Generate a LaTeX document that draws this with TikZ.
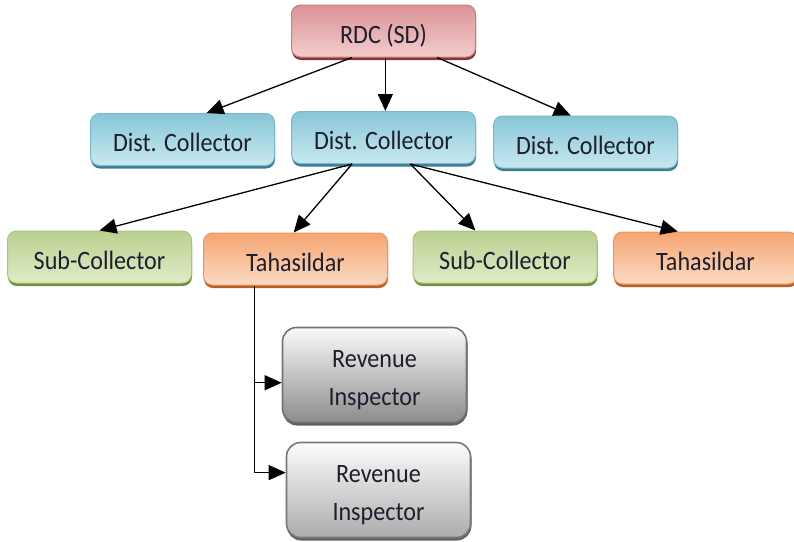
\documentclass[tikz,border=0pt]{standalone}
\usepackage{fontspec}
\setmainfont{Carlito}[FakeStretch=0.91]
\usetikzlibrary{arrows.meta,shadows,calc}
\definecolor{txt}{RGB}{30,30,45}
\definecolor{redtop}{RGB}{220,146,148}
\definecolor{redbot}{RGB}{242,205,205}
\definecolor{redline}{RGB}{205,125,125}
\definecolor{redsh}{RGB}{135,55,55}
\definecolor{bluetop}{RGB}{136,198,216}
\definecolor{bluebot}{RGB}{200,232,240}
\definecolor{blueline}{RGB}{120,185,205}
\definecolor{bluesh}{RGB}{60,125,145}
\definecolor{greentop}{RGB}{186,208,145}
\definecolor{greenbot}{RGB}{222,236,198}
\definecolor{greenline}{RGB}{170,195,125}
\definecolor{greensh}{RGB}{112,142,62}
\definecolor{orangetop}{RGB}{245,165,114}
\definecolor{orangebot}{RGB}{251,218,195}
\definecolor{orangeline}{RGB}{235,150,95}
\definecolor{orangesh}{RGB}{185,95,35}
\definecolor{grayAtop}{RGB}{250,250,250}
\definecolor{grayAbot}{RGB}{140,140,140}
\definecolor{grayAline}{RGB}{115,115,115}
\definecolor{grayAsh}{RGB}{95,95,95}
\definecolor{grayBtop}{RGB}{252,252,252}
\definecolor{grayBbot}{RGB}{172,172,172}
\definecolor{grayBline}{RGB}{120,120,120}
\definecolor{grayBsh}{RGB}{100,100,100}
\begin{document}
\begin{tikzpicture}[x=1pt,y=-1pt,
  box/.style={rounded corners=9pt, draw=#1line, line width=1pt,
    top color=#1top, bottom color=#1bot,
    general shadow={fill=#1sh, shadow yshift=-3pt, shadow xshift=0.5pt},
    minimum width=184pt, minimum height=52pt, inner sep=0pt,
    text height=24pt, text depth=0pt,
    font=\fontsize{26.5}{30}\selectfont, text=txt},
  ribox/.style={box=#1, line width=1.6pt, rounded corners=14pt,
    minimum height=95pt, align=center,
    text height=65pt, text depth=5pt,
    font=\fontsize{26.5}{38}\selectfont,
    general shadow={fill=#1sh, shadow yshift=-2pt, shadow xshift=1pt}},
  arr/.style={line width=1.3pt, -{Triangle[length=17pt,width=15pt]}},
  elb/.style={line width=1pt, -{Triangle[length=17pt,width=15pt]}}]
\useasboundingbox (0,0) rectangle (794,541);

\node[box=red]    (rdc) at (383.5,31)  {RDC (SD)};
\node[box=blue]   (dc1) at (182.5,139.5) {Dist. Collector};
\node[box=blue]   (dc2) at (383.5,137.5) {Dist. Collector};
\node[box=blue]   (dc3) at (585.5,142) {Dist. Collector};
\node[box=green]  (sc1) at (99.5,257) {Sub-Collector};
\node[box=orange] (t1)  at (295.5,259) {Tahasildar};
\node[box=green]  (sc2) at (505,257) {Sub-Collector};
\node[box=orange] (t2)  at (705.5,258) {Tahasildar};
\node[ribox=grayA] (ri1) at (374.5,375) {Revenue\\Inspector};
\node[ribox=grayB] (ri2) at (378.5,490) {Revenue\\Inspector};

\draw[arr] ($(rdc.south west)!0.33!(rdc.south east)$) -- ($(dc1.north west)!0.63!(dc1.north east)$);
\draw[arr] ($(rdc.south west)!0.51!(rdc.south east)$) -- ($(dc2.north west)!0.51!(dc2.north east)$);
\draw[arr] ($(rdc.south west)!0.79!(rdc.south east)$) -- ($(dc3.north west)!0.42!(dc3.north east)$);

\draw[arr] ($(dc2.south west)!0.33!(dc2.south east)$) -- (sc1.north);
\draw[arr] ($(dc2.south west)!0.33!(dc2.south east)$) -- ($(t1.north west)!0.49!(t1.north east)$);
\draw[arr] ($(dc2.south west)!0.645!(dc2.south east)$) -- ($(sc2.north west)!0.34!(sc2.north east)$);
\draw[arr] ($(dc2.south west)!0.645!(dc2.south east)$) -- ($(t2.north west)!0.35!(t2.north east)$);

\coordinate (tb) at ($(t1.south west)!0.28!(t1.south east)$);
\coordinate (r1) at ($(ri1.south west)!0.42!(ri1.north west)$);
\coordinate (r2) at ($(ri2.south west)!0.68!(ri2.north west)$);
\draw[elb] (tb) |- (r1);
\draw[elb] (tb) |- (r2);
\end{tikzpicture}
\end{document}
